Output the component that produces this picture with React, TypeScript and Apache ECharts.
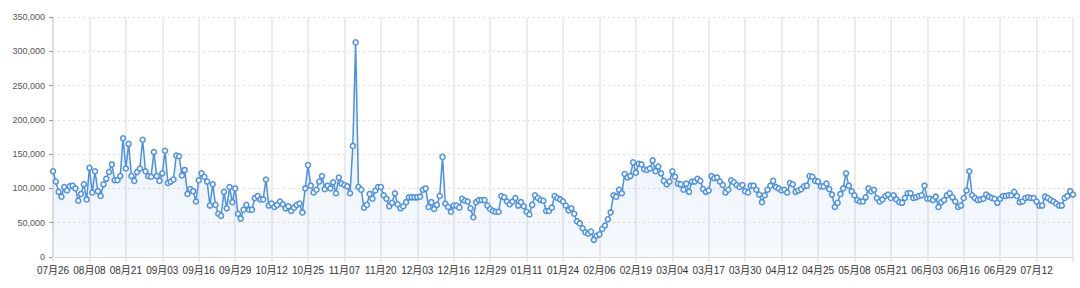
import React, { useEffect, useRef } from "react";
import * as echarts from "echarts";

// Daily values in thousands, 07-26 .. 07-25 of the next year
const UNIT = 1000;
const START_DATE = "2018-07-26";

const julAugSep = [
  125, 110, 95, 88, 102, 97, 103, 104, 100, 82, 92, 106, 84, 130, 94, 125, 96, 89, 106, 114,
  124, 135, 112, 112, 118, 173, 129, 165, 118, 111, 124, 129, 171, 125, 118, 117, 153, 118, 111, 122,
  155, 108, 110, 113, 148, 147, 119, 127, 92, 99, 96, 81, 112, 122, 117, 110, 75, 106, 76, 63,
];
const octNov = [
  60, 95, 71, 102, 80, 100, 63, 56, 69, 76, 69, 69, 86, 89, 84, 84, 113, 75, 78, 73,
  76, 81, 77, 71, 74, 67, 72, 76, 78, 65, 100, 134, 104, 94, 98, 110, 118, 99, 104, 100,
  109, 93, 116, 107, 105, 103, 93, 162, 313, 102, 98, 72, 76, 92, 85, 97, 102, 102, 90, 85,
];
const decJan = [
  74, 79, 93, 77, 71, 74, 80, 87, 87, 87, 87, 88, 98, 100, 73, 80, 70, 76, 89, 146,
  78, 73, 66, 75, 75, 72, 85, 82, 81, 71, 58, 80, 83, 83, 83, 75, 70, 67, 66, 66,
  89, 87, 81, 77, 81, 86, 75, 80, 74, 66, 62, 76, 90, 86, 83, 82, 67, 67, 72, 89,
  86, 84, 81,
];
const febMar = [
  75, 68, 71, 63, 52, 49, 42, 36, 34, 37, 25, 31, 33, 41, 46, 55, 65, 90, 88, 98,
  93, 121, 116, 118, 138, 123, 136, 135, 128, 127, 129, 141, 125, 132, 122, 111, 106, 110, 125, 117,
  107, 106, 98, 107, 95, 110, 110, 114, 111, 99, 95, 97, 118, 115, 116, 110, 105, 94, 98, 112,
  109, 105, 102,
];
const aprMay = [
  105, 96, 94, 104, 104, 98, 91, 80, 90, 98, 104, 111, 102, 100, 97, 98, 94, 108, 106, 95,
  97, 99, 103, 104, 118, 117, 111, 110, 103, 103, 107, 99, 91, 73, 79, 92, 100, 122, 104, 96,
  90, 83, 81, 81, 87, 100, 96, 98, 86, 81, 84, 89, 91, 86, 90, 84, 80, 79, 86, 93,
  93, 86,
];
const junJul = [
  87, 89, 90, 104, 85, 85, 83, 88, 73, 80, 83, 90, 93, 87, 81, 73, 75, 86, 97, 125,
  90, 86, 83, 84, 85, 91, 88, 86, 85, 79, 85, 89, 89, 90, 90, 95, 89, 80, 81, 86,
  87, 86, 86, 81, 75, 75, 88, 86, 83, 81, 78, 75, 75, 86, 89, 96, 91,
];

const valuesK = [...julAugSep, ...octNov, ...decJan, ...febMar, ...aprMay, ...junJul];
const values = valuesK.map((v) => v * UNIT);

const categories: string[] = (() => {
  const out: string[] = [];
  const d = new Date(START_DATE + "T00:00:00Z");
  for (let i = 0; i < valuesK.length; i++) {
    const mm = String(d.getUTCMonth() + 1).padStart(2, "0");
    const dd = String(d.getUTCDate()).padStart(2, "0");
    out.push(mm + "月" + dd);
    d.setUTCDate(d.getUTCDate() + 1);
  }
  return out;
})();

const Y_MIN = 0;
const Y_MAX = 350000;
const Y_STEP = 50000;
const LABEL_EVERY = 13;

export default function App() {
  const ref = useRef<HTMLDivElement>(null);
  useEffect(() => {
    if (!ref.current) return;
    const chart = echarts.init(ref.current, undefined, { renderer: "svg" });
    const lastIdx = categories.length - 1;
    chart.setOption({
      animation: false,
      grid: { left: 53, right: 7, top: 17, bottom: 31, containLabel: false },
      xAxis: {
        type: "category",
        boundaryGap: false,
        data: categories,
        axisLine: { show: true, lineStyle: { color: "#d9d9d9", width: 1 } },
        axisTick: {
          show: true,
          interval: LABEL_EVERY - 1,
          length: 5,
          lineStyle: { color: "#e3e3e3", width: 1.5 },
        },
        axisLabel: {
          interval: (idx: number) => idx % LABEL_EVERY === 0 && idx < lastIdx - 3,
          color: "#333",
          fontSize: 10,
          margin: 8,
          fontFamily: "'Liberation Sans', 'Noto Sans CJK SC', sans-serif",
        },
        splitLine: {
          show: true,
          interval: LABEL_EVERY - 1,
          lineStyle: { color: "#e6e6e6", width: 1.5 },
        },
      },
      yAxis: {
        type: "value",
        min: Y_MIN,
        max: Y_MAX,
        interval: Y_STEP,
        axisLine: { show: true, lineStyle: { color: "#d9d9d9", width: 1.5 } },
        axisTick: { show: true, length: 4, lineStyle: { color: "#999" } },
        axisLabel: {
          color: "#555",
          fontSize: 9,
          margin: 8,
          fontFamily: "'Liberation Sans', sans-serif",
          formatter: (v: number) => v.toLocaleString("en-US"),
        },
        splitLine: {
          show: true,
          lineStyle: { color: "#dddddd", type: [2, 3], width: 1 },
        },
      },
      series: [
        {
          type: "line",
          data: values,
          symbol: "circle",
          symbolSize: 5,
          showAllSymbol: true,
          itemStyle: { color: "#ffffff", borderColor: "#4b8fe6", borderWidth: 1.5 },
          lineStyle: { color: "#4b8fe6", width: 1.5 },
          areaStyle: {
            color: new echarts.graphic.LinearGradient(0, 0, 0, 1, [
              { offset: 0, color: "rgba(75,143,230,0.2)" },
              { offset: 1, color: "rgba(75,143,230,0.07)" },
            ]),
          },
        },
      ],
    });
    return () => chart.dispose();
  }, []);
  return (
    <div
      ref={ref}
      style={{ width: 1080, height: 288, position: "absolute", left: 0, top: 0, background: "#fff" }}
    />
  );
}
